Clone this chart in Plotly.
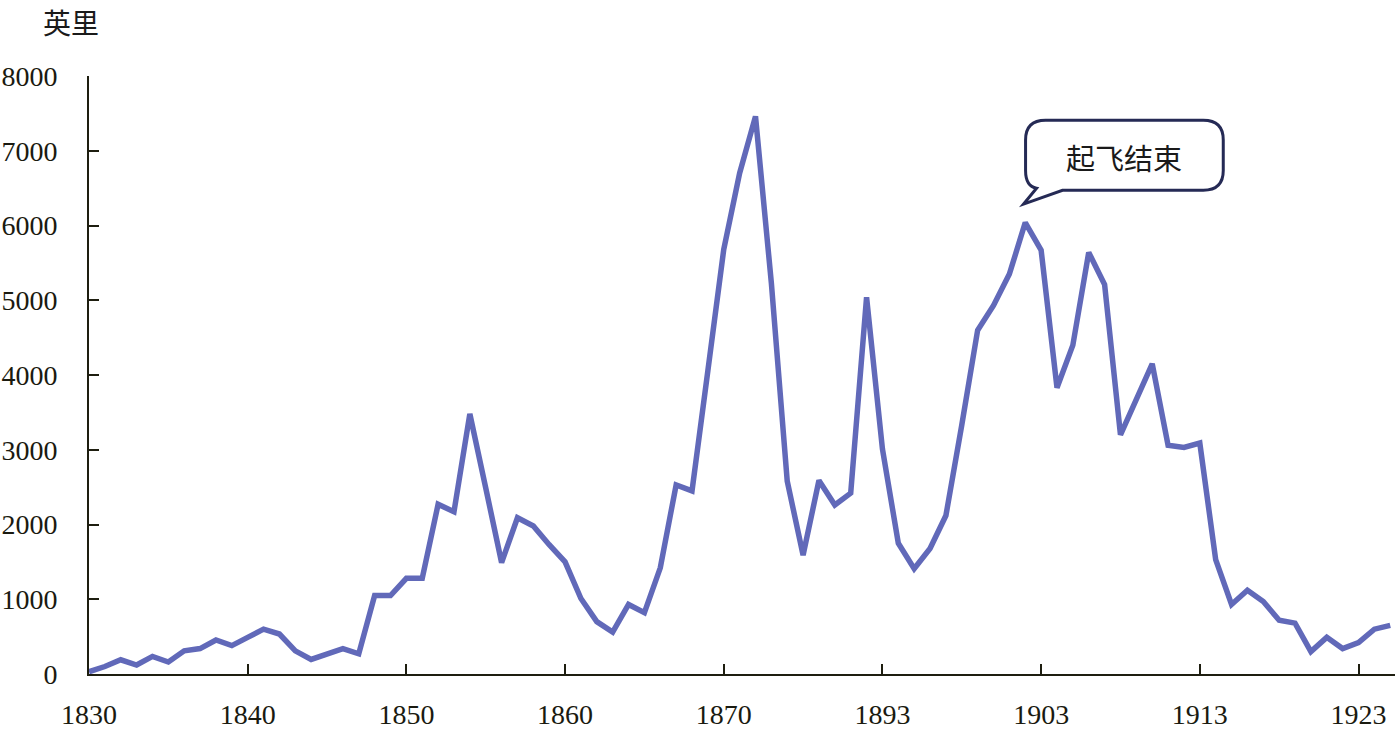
import plotly.graph_objects as go

# ---- data ----
values = [30, 100, 190, 120, 235, 160, 310, 340, 455, 380,
          490, 600, 535, 310, 195, 260, 340, 270, 1050, 1050,
          1280, 1280, 2270, 2170, 3480, 2490, 1490, 2090, 1980, 1730,
          1500, 1010, 700, 560, 930, 820, 1420, 2530, 2450, 4060,
          5680, 6700, 7460, 5230, 2580, 1590, 2590, 2260, 2420, 5040,
          3010, 1750, 1410, 1680, 2120, 3330, 4600, 4930, 5350, 6040,
          5670, 3830, 4400, 5640, 5210, 3200, 3680, 4150, 3060, 3030,
          3090, 1530, 930, 1120, 970, 720, 680, 300, 490, 340,
          420, 600, 650]
positions = list(range(len(values)))
tick_positions = [0, 10, 20, 30, 40, 50, 60, 70, 80]
tick_labels = ["1830", "1840", "1850", "1860", "1870", "1893", "1903", "1913", "1923"]
y_ticks = [0, 1000, 2000, 3000, 4000, 5000, 6000, 7000, 8000]
unit_label = "英里"
callout_text = "起飞结束"

W, H = 1396, 731
ML, MR, MT, MB = 87, 1, 76, 48
PW, PH = W - ML - MR, H - MT - MB

def px(x):
    return (x - ML) / PW

def py(y):
    return (H - MB - y) / PH

axis_col = "#1e1e10"
fig = go.Figure()
fig.add_trace(go.Scatter(
    x=positions, y=values, mode="lines",
    line=dict(color="#6169B9", width=5.5),
    hoverinfo="skip", showlegend=False,
))

# callout bubble (pixel coordinates converted to paper)
L, R, T, B, r = 1025, 1223, 121, 192, 20
path = (
    f"M {px(L + r)},{py(T)} L {px(R - r)},{py(T)} "
    f"Q {px(R)},{py(T)} {px(R)},{py(T + r)} "
    f"L {px(R)},{py(B - r)} Q {px(R)},{py(B)} {px(R - r)},{py(B)} "
    f"L {px(1062)},{py(B)} L {px(1023)},{py(206)} L {px(1036)},{py(B - 2)} "
    f"Q {px(L)},{py(B - 4)} {px(L)},{py(B - r)} "
    f"L {px(L)},{py(T + r)} Q {px(L)},{py(T)} {px(L + r)},{py(T)} Z"
)
fig.add_shape(type="path", path=path, xref="paper", yref="paper",
              line=dict(color="#252a55", width=3), fillcolor="white", layer="above")

fig.add_annotation(x=px(1124), y=py(158), xref="paper", yref="paper",
                   xanchor="center", yanchor="middle",
                   text=callout_text, showarrow=False,
                   font=dict(family="Noto Sans CJK SC", size=29, color="#1a1a1a"))
fig.add_annotation(x=px(69), y=py(21), xref="paper", yref="paper",
                   xanchor="center", yanchor="middle", borderpad=0,
                   text=unit_label, showarrow=False,
                   font=dict(family="Noto Sans CJK SC", size=28, color="#1a1a1a"))

fig.update_layout(
    width=W, height=H,
    margin=dict(l=ML, r=MR, t=MT, b=MB),
    paper_bgcolor="white", plot_bgcolor="white",
    font=dict(family="Liberation Serif", size=28, color="#1a1a10"),
    xaxis=dict(range=[0, 82.3], tickmode="array", tickvals=tick_positions,
               ticktext=tick_labels, showgrid=False, zeroline=False,
               showline=True, linecolor=axis_col, linewidth=2,
               ticks="inside", ticklen=10, tickwidth=2, tickcolor=axis_col,
               ticklabelstandoff=14),
    yaxis=dict(range=[0, 8000], tickmode="array", tickvals=y_ticks,
               showgrid=False, zeroline=False,
               showline=True, linecolor=axis_col, linewidth=2,
               ticks="inside", ticklen=10, tickwidth=2, tickcolor=axis_col,
               ticklabelstandoff=24),
)

fig.write_html("out.html")
